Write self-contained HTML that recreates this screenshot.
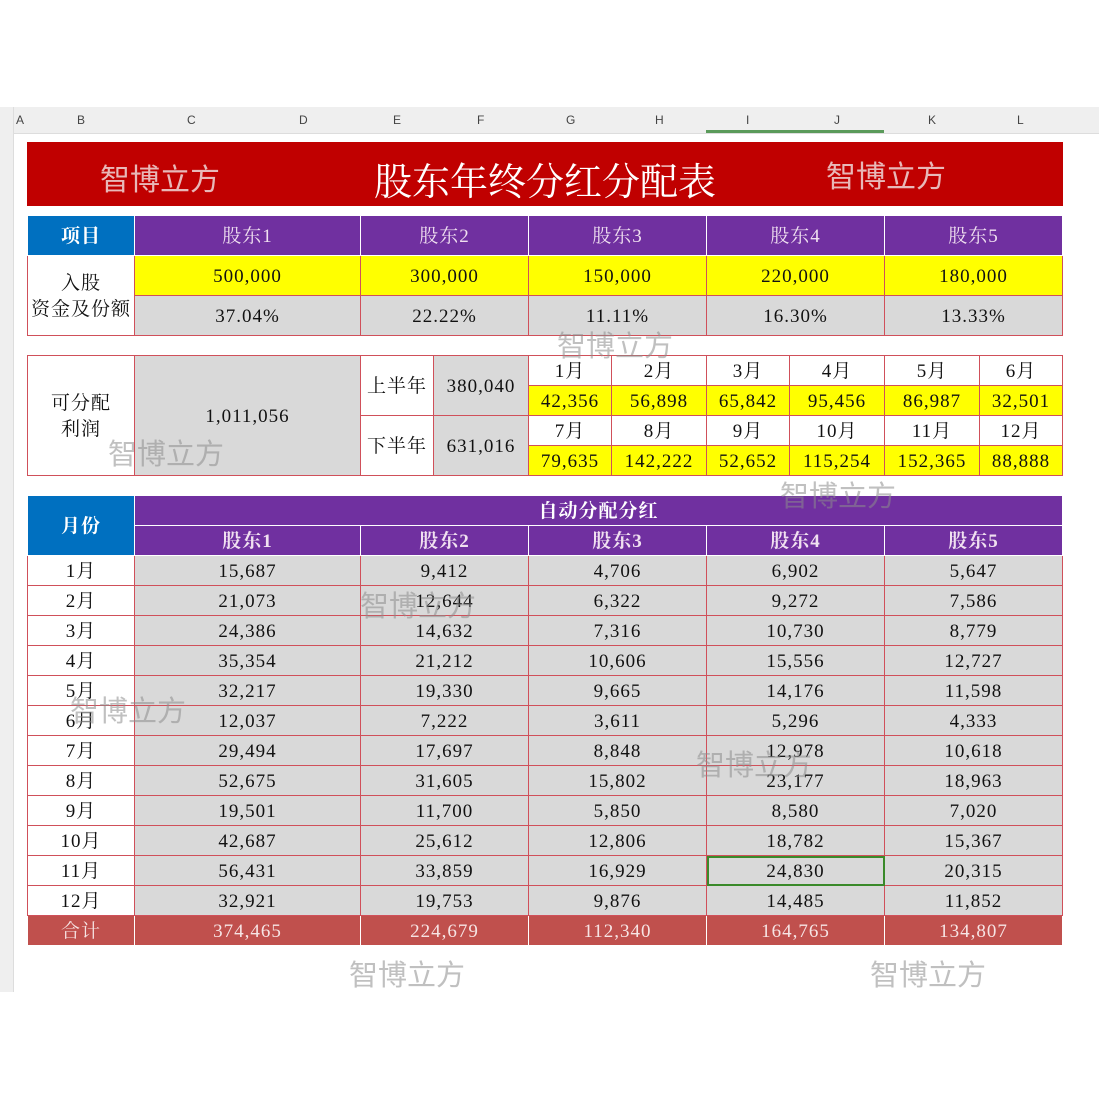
<!DOCTYPE html>
<html><head><meta charset="utf-8">
<style>
body{margin:0;width:1099px;height:1099px;background:#fff;position:relative;overflow:hidden;font-family:"Liberation Serif","Noto Serif CJK SC",serif;}
.abs{position:absolute}
table{border-collapse:collapse;position:absolute;table-layout:fixed;}
td{border:1px solid #d0505a;text-align:center;padding:3px 0 0 0;font-size:19px;letter-spacing:1px;color:#111;height:26px;line-height:24px;white-space:nowrap;overflow:hidden;box-sizing:content-box}
.p{background:#7030a0;color:#f0e0f0;border-color:#fff}
.b{background:#0070c0;color:#fff;font-weight:bold;border-color:#fff}
.y{background:#ffff00}
.g{background:#d9d9d9}
.w{background:#fff}
.t td{background:#c0504d;color:#f6e4e4;border-color:#fff}
.wm{position:absolute;font-family:"Liberation Sans","Noto Sans CJK SC",sans-serif;font-size:29px;color:rgba(140,140,140,0.55)}
.colh{position:absolute;top:113px;font-family:"Liberation Sans",sans-serif;font-size:12px;color:#444}
</style></head><body>
<div class="abs" style="left:0;top:107px;width:1099px;height:26px;background:#efefef;border-bottom:1px solid #ddd"></div>
<div class="abs" style="left:0;top:107px;width:13px;height:885px;background:#efefef;border-right:1px solid #ddd"></div>
<div class="abs" style="left:706px;top:130px;width:178px;height:3px;background:#5a9a5a"></div>
<div class="colh" style="left:16px">A</div><div class="colh" style="left:77px">B</div><div class="colh" style="left:187px">C</div><div class="colh" style="left:299px">D</div><div class="colh" style="left:393px">E</div><div class="colh" style="left:477px">F</div><div class="colh" style="left:566px">G</div><div class="colh" style="left:655px">H</div><div class="colh" style="left:746px">I</div><div class="colh" style="left:834px">J</div><div class="colh" style="left:928px">K</div><div class="colh" style="left:1017px">L</div>

<div class="abs" style="left:27px;top:142px;width:1036px;height:64px;background:#c00000"></div>
<div class="abs" style="left:100px;top:155px;font-family:'Liberation Sans','Noto Sans CJK SC',sans-serif;font-size:30px;color:#e8b8b8">智博立方</div>
<div class="abs" style="left:826px;top:152px;font-family:'Liberation Sans','Noto Sans CJK SC',sans-serif;font-size:30px;color:#e8b8b8">智博立方</div>
<div class="abs" style="left:374px;top:151px;font-size:38px;color:#fff;font-family:'Noto Serif CJK SC',serif">股东年终分红分配表</div>

<table style="left:27px;top:215px;width:1036px">
<colgroup><col style="width:107px"><col style="width:226px"><col style="width:168px"><col style="width:178px"><col style="width:178px"><col style="width:178px"></colgroup>
<tr style="height:40px"><td class="b">项目</td><td class="p">股东1</td><td class="p">股东2</td><td class="p">股东3</td><td class="p">股东4</td><td class="p">股东5</td></tr>
<tr style="height:40px"><td class="w" rowspan="2" style="line-height:26px">入股<br>资金及份额</td><td class="y">500,000</td><td class="y">300,000</td><td class="y">150,000</td><td class="y">220,000</td><td class="y">180,000</td></tr>
<tr style="height:40px"><td class="g">37.04%</td><td class="g">22.22%</td><td class="g">11.11%</td><td class="g">16.30%</td><td class="g">13.33%</td></tr>
</table>

<table style="left:27px;top:355px;width:1036px">
<colgroup><col style="width:107px"><col style="width:226px"><col style="width:73px"><col style="width:95px"><col style="width:83px"><col style="width:95px"><col style="width:83px"><col style="width:95px"><col style="width:95px"><col style="width:83px"></colgroup>
<tr><td rowspan="4" class="w" style="line-height:26px">可分配<br>利润</td><td rowspan="4" class="g">1,011,056</td><td rowspan="2" class="w">上半年</td><td rowspan="2" class="g">380,040</td><td class="w">1月</td><td class="w">2月</td><td class="w">3月</td><td class="w">4月</td><td class="w">5月</td><td class="w">6月</td></tr>
<tr><td class="y">42,356</td><td class="y">56,898</td><td class="y">65,842</td><td class="y">95,456</td><td class="y">86,987</td><td class="y">32,501</td></tr>
<tr><td rowspan="2" class="w">下半年</td><td rowspan="2" class="g">631,016</td><td class="w">7月</td><td class="w">8月</td><td class="w">9月</td><td class="w">10月</td><td class="w">11月</td><td class="w">12月</td></tr>
<tr><td class="y">79,635</td><td class="y">142,222</td><td class="y">52,652</td><td class="y">115,254</td><td class="y">152,365</td><td class="y">88,888</td></tr>
</table>

<table style="left:27px;top:495px;width:1036px">
<colgroup><col style="width:107px"><col style="width:226px"><col style="width:168px"><col style="width:178px"><col style="width:178px"><col style="width:178px"></colgroup>
<tr><td class="b" rowspan="2">月份</td><td class="p" colspan="5" style="font-weight:bold;color:#fff">自动分配分红</td></tr>
<tr><td class="p" style="font-weight:bold">股东1</td><td class="p" style="font-weight:bold">股东2</td><td class="p" style="font-weight:bold">股东3</td><td class="p" style="font-weight:bold">股东4</td><td class="p" style="font-weight:bold">股东5</td></tr>
<tr><td class="w">1月</td><td class="g">15,687</td><td class="g">9,412</td><td class="g">4,706</td><td class="g">6,902</td><td class="g">5,647</td></tr>
<tr><td class="w">2月</td><td class="g">21,073</td><td class="g">12,644</td><td class="g">6,322</td><td class="g">9,272</td><td class="g">7,586</td></tr>
<tr><td class="w">3月</td><td class="g">24,386</td><td class="g">14,632</td><td class="g">7,316</td><td class="g">10,730</td><td class="g">8,779</td></tr>
<tr><td class="w">4月</td><td class="g">35,354</td><td class="g">21,212</td><td class="g">10,606</td><td class="g">15,556</td><td class="g">12,727</td></tr>
<tr><td class="w">5月</td><td class="g">32,217</td><td class="g">19,330</td><td class="g">9,665</td><td class="g">14,176</td><td class="g">11,598</td></tr>
<tr><td class="w">6月</td><td class="g">12,037</td><td class="g">7,222</td><td class="g">3,611</td><td class="g">5,296</td><td class="g">4,333</td></tr>
<tr><td class="w">7月</td><td class="g">29,494</td><td class="g">17,697</td><td class="g">8,848</td><td class="g">12,978</td><td class="g">10,618</td></tr>
<tr><td class="w">8月</td><td class="g">52,675</td><td class="g">31,605</td><td class="g">15,802</td><td class="g">23,177</td><td class="g">18,963</td></tr>
<tr><td class="w">9月</td><td class="g">19,501</td><td class="g">11,700</td><td class="g">5,850</td><td class="g">8,580</td><td class="g">7,020</td></tr>
<tr><td class="w">10月</td><td class="g">42,687</td><td class="g">25,612</td><td class="g">12,806</td><td class="g">18,782</td><td class="g">15,367</td></tr>
<tr><td class="w">11月</td><td class="g">56,431</td><td class="g">33,859</td><td class="g">16,929</td><td class="g" style="outline:2px solid #3a8a2a;outline-offset:-2px">24,830</td><td class="g">20,315</td></tr>
<tr><td class="w">12月</td><td class="g">32,921</td><td class="g">19,753</td><td class="g">9,876</td><td class="g">14,485</td><td class="g">11,852</td></tr>
<tr class="t"><td>合计</td><td>374,465</td><td>224,679</td><td>112,340</td><td>164,765</td><td>134,807</td></tr>
</table>

<div class="wm" style="left:557px;top:323px">智博立方</div>
<div class="wm" style="left:108px;top:431px">智博立方</div>
<div class="wm" style="left:780px;top:473px">智博立方</div>
<div class="wm" style="left:360px;top:583px">智博立方</div>
<div class="wm" style="left:70px;top:688px">智博立方</div>
<div class="wm" style="left:696px;top:742px">智博立方</div>
<div class="wm" style="left:349px;top:952px">智博立方</div>
<div class="wm" style="left:870px;top:952px">智博立方</div>
</body></html>
